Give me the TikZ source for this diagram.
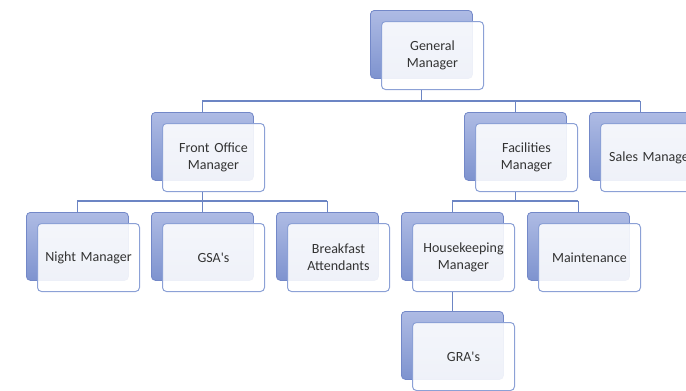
\documentclass[tikz,border=0pt]{standalone}
\usepackage{fontspec}
\setmainfont{Carlito}
\definecolor{backtop}{HTML}{AEBBE4}
\definecolor{backbot}{HTML}{7E93CF}
\definecolor{backline}{HTML}{7388C8}
\definecolor{frontline}{HTML}{8CA1D6}
\definecolor{connline}{HTML}{6C85C4}
\definecolor{txt}{HTML}{333333}
\tikzset{
  backbox/.style={draw=backline, line width=0.8pt, rounded corners=4pt, top color=backtop, bottom color=backbot, minimum width=102pt, minimum height=68pt, inner sep=0pt, anchor=north west},
  frontbox/.style={draw=frontline, line width=1pt, rounded corners=4pt, fill=white, fill opacity=0.88, text opacity=1, text=txt, minimum width=102pt, minimum height=68pt, inner sep=0pt, anchor=north west, align=center, text width=96pt, font=\fontsize{14}{17}\selectfont},
  conn/.style={draw=connline, line width=1.1pt}
}
\newcommand\orgunit[4]{%
  \node[backbox] (#1b) at (#2,#3) {};
  \node[frontbox] (#1) at (#2+11,#3+11) {#4};
}
\begin{document}
\begin{tikzpicture}[x=1pt,y=-1pt]
\useasboundingbox (0,0) rectangle (686,391);
\clip (0,0) rectangle (686,391);
\coordinate (busA) at (0,101);
\coordinate (busB) at (0,201);
\orgunit{gm}{370}{10}{General\\Manager}
\orgunit{fo}{151}{112}{Front Office\\Manager}
\orgunit{fac}{464}{112}{Facilities\\Manager}
\orgunit{sal}{589}{112}{Sales Manager}
\orgunit{nm}{26}{212}{Night Manager}
\orgunit{gsa}{151}{212}{GSA\textquotesingle s}
\orgunit{ba}{276}{212}{Breakfast\\Attendants}
\orgunit{hk}{401}{212}{Housekeeping\\Manager}
\orgunit{ma}{527}{212}{Maintenance}
\orgunit{gra}{401}{311}{GRA\textquotesingle s}
% level 1 -> 2
\draw[conn] (gmb.north |- gm.south) -- (gmb.north |- busA);
\draw[conn] (fob.north |- busA) -- (salb.north |- busA);
\foreach \n in {fo,fac,sal} \draw[conn] (\n b.north |- busA) -- (\n b.north);
% front office -> level 3
\draw[conn] (fob.north |- fo.south) -- (fob.north |- busB);
\draw[conn] (nmb.north |- busB) -- (bab.north |- busB);
\foreach \n in {nm,gsa,ba} \draw[conn] (\n b.north |- busB) -- (\n b.north);
% facilities -> level 3
\draw[conn] (facb.north |- fac.south) -- (facb.north |- busB);
\draw[conn] (hkb.north |- busB) -- (mab.north |- busB);
\foreach \n in {hk,ma} \draw[conn] (\n b.north |- busB) -- (\n b.north);
% housekeeping -> GRA
\draw[conn] (hkb.north |- hk.south) -- (grab.north);
\end{tikzpicture}
\end{document}
